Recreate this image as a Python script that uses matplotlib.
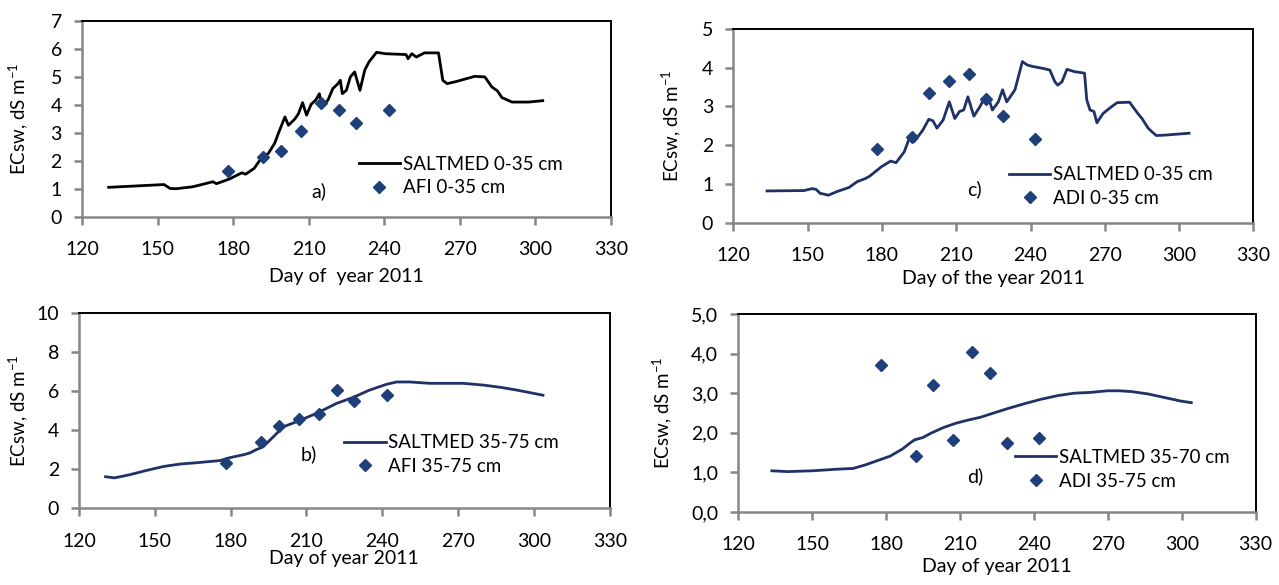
import matplotlib
matplotlib.use("Agg")
import matplotlib.pyplot as plt
from matplotlib.ticker import FuncFormatter

plt.rcParams['font.family'] = ['Lato', 'DejaVu Sans']
plt.rcParams['mathtext.fontset'] = 'custom'
plt.rcParams['mathtext.rm'] = 'Lato'
plt.rcParams['mathtext.default'] = 'regular'

# a) SALTMED 0-35 cm, AFI treatment
a_day = [130.6, 152.6, 155, 157.4, 164, 172, 173.4, 178.6, 183.5, 185, 188.4, 191.6, 194,
         196.5, 198, 200.6, 202, 204.6, 206, 207.6, 209.2, 211, 212.8, 214.3, 215.2, 217.7,
         219.6, 221.7, 222.6, 223.4, 225, 226.6, 228.3, 230.4, 232.3, 234, 237, 240.5,
         248.7, 249.5, 251, 252.8, 256, 261.6, 263.3, 265, 268, 276, 280, 282.8, 285,
         286.8, 290.8, 297.3, 303]
a_sim = [1.05, 1.15, 1.01, 1.0, 1.07, 1.25, 1.18, 1.35, 1.57, 1.52, 1.73, 2.14, 2.26,
         2.62, 2.98, 3.57, 3.27, 3.5, 3.69, 4.08, 3.63, 4.02, 4.17, 4.4, 3.93, 4.17,
         4.58, 4.76, 4.88, 4.4, 4.52, 5.0, 5.18, 4.52, 5.24, 5.54, 5.88, 5.83,
         5.8, 5.65, 5.83, 5.71, 5.86, 5.86, 4.88, 4.76, 4.82, 5.02, 5.0, 4.64, 4.5,
         4.26, 4.1, 4.1, 4.15]
obs_day = [178, 192, 199, 207, 215, 222, 229, 242]
a_obs = [1.65, 2.15, 2.35, 3.05, 4.05, 3.8, 3.35, 3.8]

# b) SALTMED 35-75 cm, AFI treatment
b_day = [130.5, 134, 140, 146, 153.6, 160, 166.7, 175.9, 179.7, 185.2, 187.6, 190, 192.9,
         196.9, 200.8, 206.1, 214, 221.9, 228.5, 235.1, 241.7, 245.7, 250.9, 258.8, 272,
         280, 287, 293, 303.6]
b_sim = [1.62, 1.56, 1.72, 1.92, 2.15, 2.27, 2.34, 2.45, 2.6, 2.75, 2.84, 3.0, 3.16,
         3.67, 4.18, 4.44, 4.87, 5.38, 5.69, 6.07, 6.36, 6.48, 6.48, 6.41, 6.41,
         6.32, 6.2, 6.07, 5.8]
b_obs = [2.31, 3.38, 4.2, 4.56, 4.85, 6.05, 5.5, 5.81]

# c) SALTMED 0-35 cm, ADI treatment
c_day = [133.6, 148.5, 151.8, 153.4, 155, 158.4, 161.7, 166.7, 170, 173.3, 175, 179.9,
         183.5, 185.7, 189, 191.5, 193, 196.5, 198.9, 200.6, 202.2, 204.7, 207.2, 209.4,
         211.3, 213, 214.7, 217.1, 219.6, 221.3, 222.9, 224.6, 227, 228.7, 230.4, 233.7,
         236.7, 238.7, 241.1, 245.3, 247.8, 249.8, 251, 252.7, 254.7, 257.7, 261.8,
         262.7, 264, 265.6, 266.8, 269.3, 272.6, 275, 280, 283.3, 285, 287.5, 289,
         290.8, 294, 304]
c_sim = [0.82, 0.83, 0.88, 0.86, 0.76, 0.71, 0.8, 0.91, 1.06, 1.14, 1.2, 1.45,
         1.59, 1.55, 1.83, 2.26, 2.09, 2.39, 2.67, 2.63, 2.44, 2.65, 3.12, 2.69,
         2.87, 2.91, 3.25, 2.75, 3.0, 3.21, 3.25, 2.91, 3.12, 3.43, 3.12, 3.43,
         4.16, 4.07, 4.03, 3.98, 3.94, 3.64, 3.55, 3.64, 3.96, 3.9, 3.86,
         3.17, 2.91, 2.87, 2.58, 2.82, 2.99, 3.1, 3.11, 2.82, 2.69, 2.44, 2.35,
         2.25, 2.26, 2.31]
c_obs = [1.9, 2.22, 3.35, 3.67, 3.84, 3.2, 2.76, 2.16]

# d) SALTMED 35-70 cm, ADI treatment
d_day = [133.6, 140, 150, 160, 166.6, 171.6, 176.6, 181.6, 186.6, 189.9, 191.5, 194.9,
         198.2, 203.2, 208.2, 213.2, 218.2, 223.2, 229.8, 236.5, 243.1, 249.8, 256.4,
         263.1, 269.8, 274.7, 279.7, 286.4, 293, 299.7, 303.9]
d_sim = [1.04, 1.02, 1.04, 1.08, 1.1, 1.19, 1.3, 1.41, 1.59, 1.75, 1.82, 1.88,
         1.99, 2.13, 2.24, 2.32, 2.39, 2.49, 2.62, 2.74, 2.85, 2.94, 3.0,
         3.02, 3.06, 3.06, 3.04, 2.98, 2.89, 2.8, 2.76]
d_obs = [3.71, 1.41, 3.2, 1.82, 4.04, 3.52, 1.73, 1.88]

xticks = [120, 150, 180, 210, 240, 270, 300, 330]
navy = '#1f3166'
marker_col = '#1f3f7a'
grey = '#868686'

fig = plt.figure(figsize=(12.79, 5.85), dpi=100)

panels = [
    # rect, day, sim, obs, colour, labels, tag, tag pos, xlabel, ymax, ystep, comma,
    # legend anchor, ylabel x, xlabel pad
    ([0.0641, 0.6296, 0.4134, 0.3345], a_day, a_sim, a_obs, 'black',
     'SALTMED 0-35 cm', 'AFI 0-35 cm', 'a)', (0.434, 0.128), 'Day of  year 2011', 7, 1, False,
     (0.523, 0.207), -0.12, 7),
    ([0.0618, 0.1311, 0.4149, 0.3333], b_day, b_sim, b_obs, navy,
     'SALTMED 35-75 cm', 'AFI 35-75 cm', 'b)', (0.417, 0.277), 'Day of year 2011', 10, 2, False,
     (0.5, 0.275), -0.114, 0),
    ([0.5734, 0.6193, 0.4066, 0.3311], c_day, c_sim, c_obs, navy,
     'SALTMED 0-35 cm', 'ADI 0-35 cm', 'c)', (0.449, 0.175), 'Day of the year 2011', 5, 1, False,
     (0.53, 0.186), -0.12, 4),
    ([0.5773, 0.1248, 0.4044, 0.3385], d_day, d_sim, d_obs, navy,
     'SALTMED 35-70 cm', 'ADI 35-75 cm', 'd)', (0.442, 0.182), 'Day of year 2011', 5, 1, True,
     (0.535, 0.216), -0.147, 3.5),
]

for (rect, day, sim, obs, lc, lab_sim, lab_obs, tag, tagpos, xlab, ymax, ystep, comma,
     legpos, ylab_x, xlabpad) in panels:
    ax = fig.add_axes(rect)
    ax.plot(day, sim, color=lc, lw=2.0, label=lab_sim)
    ax.plot(obs_day, obs, linestyle='none', marker='D', markersize=6.5,
            color=marker_col, label=lab_obs)

    ax.set_xlim(120, 330)
    ax.set_ylim(0, ymax)
    ax.set_xticks(xticks)
    ax.set_yticks([i * ystep for i in range(int(ymax / ystep) + 1)])
    if comma:
        ax.yaxis.set_major_formatter(FuncFormatter(lambda v, p: f'{v:.1f}'.replace('.', ',')))

    for s in ['top', 'right']:
        ax.spines[s].set_color('black')
        ax.spines[s].set_linewidth(1.4)
    for s in ['left', 'bottom']:
        ax.spines[s].set_color(grey)
        ax.spines[s].set_linewidth(1.8)
    ax.tick_params(axis='both', direction='out', color=grey, width=1.8, length=5.5,
                   labelsize=14)
    ax.tick_params(axis='x', pad=12)
    ax.tick_params(axis='y', pad=9)

    ax.set_xlabel(xlab, fontsize=14, labelpad=xlabpad)
    ax.set_ylabel('ECsw, dS m$^{-1}$', fontsize=13.5, va='center')
    ax.yaxis.set_label_coords(ylab_x, 0.5)

    ax.text(tagpos[0], tagpos[1], tag, transform=ax.transAxes, fontsize=14,
            ha='left', va='center')
    ax.legend(loc='center left', bbox_to_anchor=legpos, frameon=False, fontsize=13.5,
              handlelength=2.2, handletextpad=0.15, labelspacing=0.35, borderpad=0,
              borderaxespad=0)

fig.savefig('out.png', dpi=100)
